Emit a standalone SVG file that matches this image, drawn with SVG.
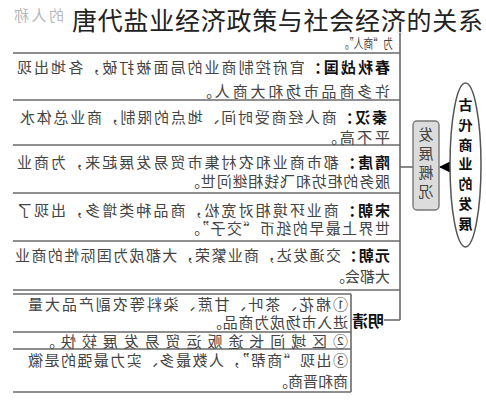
<svg xmlns="http://www.w3.org/2000/svg" width="486" height="400" viewBox="0 0 486 400">
<style>
.t{font-family:"Noto Sans CJK SC","Noto Sans",sans-serif;font-size:15px;fill:#444}
.b{font-weight:bold;fill:#111}
.ln{stroke:#6a6a6a;stroke-width:1.6;fill:none}
.v{font-family:"Noto Sans CJK SC","Noto Sans",sans-serif;text-anchor:middle}
</style>
<defs>
<marker id="ah" markerWidth="12" markerHeight="12" refX="11" refY="6" orient="auto" markerUnits="userSpaceOnUse">
<path d="M0,0 L12,6 L0,12 Z" fill="#000"/>
</marker>
</defs>
<rect width="486" height="400" fill="#fff"/>
<g id="connectors">
<line class="ln" x1="400" y1="33" x2="400" y2="320"/>
<line class="ln" x1="384" y1="320" x2="400" y2="320"/>
<line class="ln" x1="400" y1="167" x2="413" y2="167"/>
<line x1="451" y1="167" x2="440" y2="167" stroke="#000" stroke-width="1" marker-end="url(#ah)"/>
</g>
<g id="rows">
<line class="ln" x1="13" y1="53" x2="400" y2="53"/>
<line class="ln" x1="13" y1="100" x2="400" y2="100"/>
<line class="ln" x1="13" y1="145" x2="400" y2="145"/>
<line class="ln" x1="13" y1="193" x2="400" y2="193"/>
<line class="ln" x1="13" y1="241" x2="400" y2="241"/>
<line class="ln" x1="13" y1="290" x2="400" y2="290"/>
</g>
<g id="row-top" transform="matrix(-1 0 0 1 486 0)">
<text class="t" x="422" y="21" textLength="50" style="fill:#b8b8b8">的人称</text>
<text class="t" x="93" y="48" textLength="54" lengthAdjust="spacingAndGlyphs" style="font-size:13px">为“商人”。</text>
</g>
<g id="row-chunqiu" transform="matrix(-1 0 0 1 486 0)">
<text class="t" x="96" y="72.5" textLength="373"><tspan class="b">春秋战国：</tspan>官府控制商业的局面被打破，各地出现</text>
<text class="t" x="96" y="96.5" textLength="193">许多商品市场和大商人。</text>
</g>
<g id="row-qinhan" transform="matrix(-1 0 0 1 486 0)">
<text class="t" x="99" y="122.5" textLength="367"><tspan class="b">秦汉：</tspan>商人经商受时间、地点的限制，商业总体水</text>
<text class="t" x="96" y="142.5" textLength="68">平不高。</text>
</g>
<g id="row-suitang" transform="matrix(-1 0 0 1 486 0)">
<text class="t" x="96" y="167.5" textLength="373"><tspan class="b">隋唐：</tspan>都市商业和农村集市贸易发展起来，为商业</text>
<text class="t" x="96" y="186.5" textLength="205">服务的柜坊和飞钱相继问世。</text>
</g>
<g id="row-song" transform="matrix(-1 0 0 1 486 0)">
<text class="t" x="96" y="215.5" textLength="373"><tspan class="b">宋朝：</tspan>商业环境相对宽松，商品种类增多，出现了</text>
<text class="t" x="96" y="233.5" textLength="205">世界上最早的纸币“交子”。</text>
</g>
<g id="row-yuan" transform="matrix(-1 0 0 1 486 0)">
<text class="t" x="96" y="260.5" textLength="375"><tspan class="b">元朝：</tspan>交通发达，商业繁荣，大都成为国际性的商业</text>
<text class="t" x="96" y="281.5">大都会。</text>
</g>
<g id="row-mingqing">
<line class="ln" x1="13" y1="294" x2="351" y2="294"/>
<line class="ln" x1="351" y1="294" x2="351" y2="392"/>
<line class="ln" x1="13" y1="332" x2="351" y2="332"/>
<line class="ln" x1="13" y1="349" x2="351" y2="349"/>
<line class="ln" x1="13" y1="392" x2="351" y2="392"/>
<g transform="matrix(-1 0 0 1 486 0)">
<text class="t b" x="118" y="327" text-anchor="middle" style="font-size:16px">明清</text>
<text class="t" x="138" y="309.5" textLength="320">①棉花、茶叶、甘蔗、染料等农副产品大量</text>
<text class="t" x="138" y="328" textLength="141">进入市场成为商品。</text>
<text class="t" x="138" y="347" textLength="308">②区域间长途贩运贸易发展较快。</text>
<text class="t" x="138" y="366" textLength="320">③出现“商帮”，人数最多、实力最强的是徽</text>
<text class="t" x="138" y="386.5">商和晋商。</text>
</g>
</g>
<g id="node-gaikuang">
<rect x="413" y="121" width="26" height="89" rx="4" fill="#dcdcdc" stroke="#777" stroke-width="1.4"/>
<g transform="matrix(-1 0 0 1 486 0)" class="v" style="font-size:15px;fill:#444">
<text x="60" y="140">发</text>
<text x="60" y="159">展</text>
<text x="60" y="178">概</text>
<text x="60" y="197">况</text>
</g>
</g>
<g id="node-title-ellipse">
<ellipse cx="465.5" cy="165" rx="15.5" ry="82" fill="#fff" stroke="#555" stroke-width="1.5"/>
<g transform="matrix(-1 0 0 1 486 0)" class="v" style="font-size:14px;font-weight:bold;fill:#111">
<text x="20.5" y="110">古</text>
<text x="20.5" y="130">代</text>
<text x="20.5" y="150">商</text>
<text x="20.5" y="169">业</text>
<text x="20.5" y="189">的</text>
<text x="20.5" y="209">发</text>
<text x="20.5" y="229">展</text>
</g>
</g>
<g id="title">
<text x="72" y="30" textLength="411" style="font-family:'Noto Sans CJK SC','Noto Sans',sans-serif;font-size:25px;fill:#222">唐代盐业经济政策与社会经济的关系</text>
</g>
</svg>
